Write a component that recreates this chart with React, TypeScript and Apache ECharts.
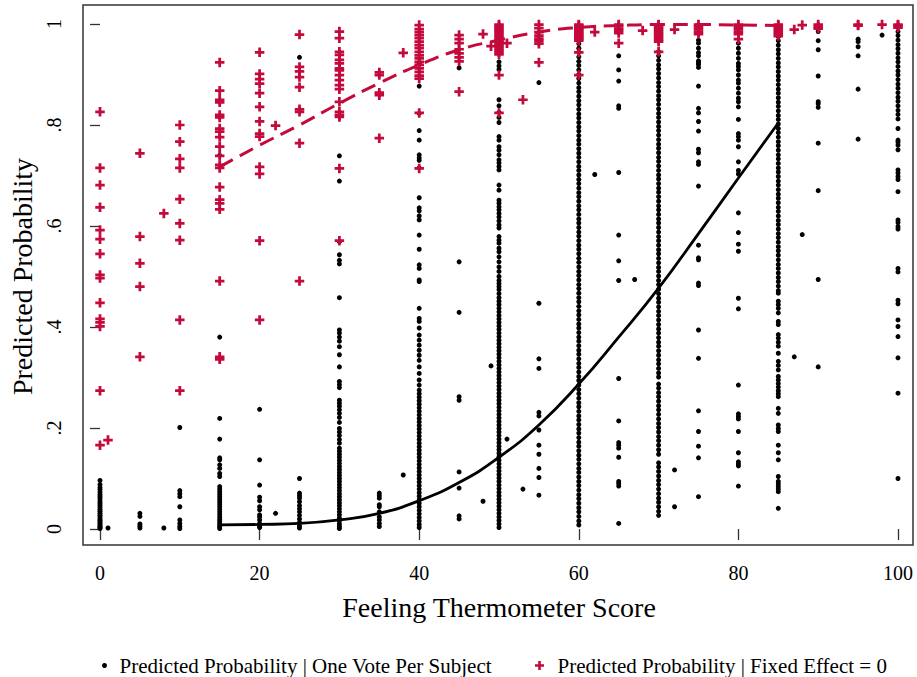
import React, { useEffect, useRef } from "react";
import * as echarts from "echarts";

// ---------- axis ticks ----------
const xTicks = [0, 20, 40, 60, 80, 100];
const yTicks = [0, 0.2, 0.4, 0.6, 0.8, 1];
const yTickLabels = ["0", ".2", ".4", ".6", ".8", "1"];

const xTitle = "Feeling Thermometer Score";
const yTitle = "Predicted Probability";
const nameOneVote = "Predicted Probability | One Vote Per Subject";
const nameFixed = "Predicted Probability | Fixed Effect = 0";

// ---------- black dots: One Vote Per Subject ----------
const dotX = [0, 1, 5, 8, 10, 15, 20, 22, 25, 30, 35, 38, 40, 45, 48, 49, 50, 51, 53, 55, 60, 62, 65, 67, 70, 72, 75, 80, 85, 87, 88, 90, 95, 98, 100];
const dotY: number[][] = [
  [.096, .088, .082, .078, .073, .068, .064, .060, .055, .051, .047, .043, .039, .035, .031, .027, .024, .020, .017, .014, .011, .008, .005, .003, .001],
  [.002],
  [.031, .025, .010, .006, .002],
  [.002],
  [.201, .076, .070, .064, .044, .018, .011, .005, .001],
  [.740, .380, .219, .178, .141, .137, .127, .120, .110, .104, .084, .079, .074, .069, .064, .059, .054, .049, .044, .039, .034, .029, .024, .019, .015, .011, .007, .004, .001],
  [.237, .137, .087, .063, .056, .044, .038, .028, .024, .018, .011, .006, .003],
  [.031],
  [.934, .100, .071, .066, .061, .054, .046, .040, .034, .027, .020, .013, .006, .002],
  [.739, .689, .569, .543, .532, .525, .458, .394, .388, .380, .372, .361, .345, .321, .292, .286, .280, .255, .249, .243, .236, .229, .221, .211, .199, .192, .185, .177, .170, .160, .154, .148, .142, .136, .130, .124, .118, .112, .106, .100, .094, .088, .082, .076, .070, .064, .058, .052, .046, .040, .034, .028, .022, .016, .010, .005, .001],
  [.071, .066, .061, .048, .044, .034, .024, .018, .011, .005],
  [.107],
  [.922, .877, .823, .789, .770, .741, .735, .730, .715, .656, .636, .630, .620, .612, .582, .554, .523, .516, .493, .490, .437, .417, .411, .398, .384, .374, .364, .354, .344, .334, .321, .308, .295, .285, .275, .268, .261, .254, .247, .240, .233, .226, .219, .212, .205, .198, .191, .184, .177, .170, .163, .156, .149, .142, .135, .128, .121, .114, .107, .100, .093, .086, .079, .072, .065, .058, .051, .044, .037, .030, .023, .016, .009, .003],
  [.913, .529, .429, .262, .255, .113, .081, .026, .020],
  [.055],
  [.323],
  [.925, .917, .910, .850, .838, .825, .815, .805, .777, .770, .757, .750, .741, .731, .725, .718, .711, .681, .671, .651, .645, .638, .632, .625, .618, .610, .602, .596, .579, .572, .566, .556, .549, .539, .529, .519, .510, .500, .492, .486, .480, .474, .466, .458, .451, .444, .437, .430, .423, .416, .409, .402, .395, .388, .381, .374, .367, .360, .353, .346, .339, .332, .325, .318, .311, .304, .297, .290, .283, .276, .269, .262, .255, .248, .241, .234, .227, .220, .213, .206, .199, .192, .185, .178, .171, .164, .157, .150, .143, .136, .129, .122, .115, .108, .101, .094, .087, .080, .073, .066, .059, .052, .045, .038, .031, .024, .017, .010, .003],
  [.178],
  [.079],
  [.884, .447, .337, .318, .231, .224, .196, .166, .148, .120, .102, .067],
  [.961, .952, .944, .935, .926, .918, .909, .900, .892, .883, .874, .866, .857, .848, .840, .831, .822, .814, .805, .796, .788, .779, .770, .762, .753, .744, .736, .727, .718, .710, .701, .692, .684, .675, .666, .658, .649, .640, .632, .623, .614, .606, .597, .588, .580, .571, .562, .554, .545, .536, .528, .519, .510, .502, .493, .484, .476, .467, .458, .450, .441, .432, .424, .415, .406, .398, .389, .380, .372, .363, .354, .346, .337, .328, .320, .311, .302, .294, .285, .276, .268, .259, .250, .242, .233, .224, .216, .207, .198, .190, .181, .172, .164, .155, .146, .138, .129, .120, .112, .103, .094, .086, .077, .068, .060, .051, .042, .034, .025, .016, .008],
  [.702],
  [.937, .909, .887, .838, .833, .706, .582, .531, .492, .298, .214, .171, .166, .160, .142, .094, .090, .085, .011],
  [.494],
  [.945, .937, .928, .919, .911, .902, .893, .884, .876, .867, .858, .850, .841, .832, .823, .815, .806, .797, .789, .780, .771, .762, .754, .745, .736, .728, .719, .710, .701, .693, .684, .675, .667, .658, .649, .640, .632, .623, .614, .606, .597, .588, .579, .571, .562, .553, .545, .536, .527, .518, .510, .501, .492, .484, .475, .466, .457, .449, .440, .431, .423, .414, .405, .396, .388, .379, .370, .362, .353, .344, .335, .327, .318, .309, .301, .287, .279, .270, .262, .253, .244, .236, .227, .218, .209, .201, .192, .183, .175, .166, .157, .148, .131, .123, .114, .105, .096, .088, .079, .070, .061, .053, .044, .035, .027],
  [.117, .044],
  [.968, .962, .952, .943, .937, .927, .924, .920, .914, .877, .833, .824, .807, .788, .752, .745, .727, .722, .679, .562, .537, .533, .487, .482, .394, .338, .234, .193, .164, .141, .064],
  [.962, .952, .942, .932, .922, .916, .909, .899, .889, .883, .873, .863, .853, .846, .836, .811, .783, .777, .770, .757, .727, .710, .703, .626, .587, .564, .550, .457, .436, .285, .228, .223, .218, .193, .151, .133, .129, .125, .085],
  [.975, .967, .958, .949, .941, .932, .923, .915, .906, .897, .889, .880, .871, .863, .854, .845, .837, .828, .819, .811, .802, .793, .785, .776, .767, .759, .750, .741, .733, .724, .715, .707, .698, .689, .681, .672, .663, .655, .646, .637, .629, .620, .611, .603, .594, .585, .577, .568, .559, .551, .542, .533, .524, .516, .507, .498, .490, .481, .472, .467, .451, .444, .437, .428, .411, .405, .385, .378, .370, .362, .348, .332, .324, .315, .302, .295, .288, .281, .274, .268, .262, .239, .229, .206, .199, .193, .166, .151, .137, .104, .094, .089, .084, .079, .074, .041],
  [.341],
  [.583],
  [.985, .967, .949, .897, .846, .842, .835, .764, .670, .494, .321],
  [.970, .965, .955, .937, .871, .772],
  [.978],
  [.994, .985, .977, .968, .959, .951, .942, .933, .925, .916, .907, .899, .890, .881, .873, .864, .855, .847, .838, .829, .821, .812, .793, .770, .766, .760, .751, .711, .705, .698, .692, .668, .612, .607, .599, .594, .516, .509, .453, .446, .414, .401, .381, .339, .269, .100],
];

// ---------- red pluses: Fixed Effect = 0 ----------
const plusX = [0, 1, 5, 8, 10, 15, 20, 22, 25, 30, 35, 38, 40, 45, 48, 49, 50, 51, 53, 55, 60, 62, 65, 68, 70, 72, 75, 80, 85, 87, 88, 90, 95, 98, 100];
const plusY: number[][] = [
  [.826, .715, .681, .637, .592, .574, .545, .503, .497, .448, .416, .409, .401, .274, .166],
  [.176],
  [.744, .579, .526, .480, .341],
  [.625],
  [.800, .767, .733, .715, .653, .605, .572, .414, .274],
  [.924, .868, .850, .845, .820, .815, .793, .787, .776, .757, .739, .721, .715, .677, .652, .645, .633, .491, .341, .336],
  [.944, .901, .891, .882, .863, .836, .807, .783, .777, .717, .703, .571, .414],
  [.799],
  [.979, .915, .906, .895, .875, .831, .826, .764, .491],
  [.985, .972, .945, .939, .929, .922, .912, .908, .899, .889, .879, .871, .846, .826, .820, .816, .714, .571],
  [.904, .899, .864, .859, .774],
  [.943],
  [.998, .990, .984, .978, .972, .965, .958, .952, .945, .938, .932, .925, .919, .912, .905, .898, .892, .824, .714],
  [.978, .970, .962, .950, .942, .934, .926, .866],
  [.980],
  [.956],
  [.999, .996, .992, .988, .984, .980, .976, .972, .968, .964, .960, .956, .952, .948, .944, .940, .899, .824],
  [.962],
  [.850],
  [.999, .992, .984, .977, .971, .966, .961, .924],
  [.999, .997, .994, .991, .988, .985, .982, .979, .976, .973, .970, .967, .944, .899],
  [.984],
  [.999, .996, .991, .987, .982, .962],
  [.987],
  [.999, .997, .993, .989, .985, .981, .977, .973, .969, .965, .945],
  [.989],
  [.999, .995, .990, .985, .980],
  [.999, .995, .990, .985, .980, .970],
  [.999, .996, .992, .988, .984, .980, .976],
  [.989],
  [.998],
  [.999, .995, .991],
  [.999, .997],
  [.999],
  [.999, .997, .993],
];

// ---------- fitted curves ----------
const fitX = [15, 20, 25, 30, 35, 40, 45, 50, 55, 60, 65, 70, 75, 80, 85];
const fitOneVote = [0.008, 0.009, 0.011, 0.018, 0.031, 0.056, 0.092, 0.142, 0.206, 0.287, 0.380, 0.477, 0.585, 0.695, 0.804];
const fitFixed = [0.717, 0.760, 0.800, 0.843, 0.883, 0.919, 0.949, 0.968, 0.984, 0.993, 0.997, 0.999, 0.999, 0.998, 0.997];

const RED = "#c40a3c";
const FONT = "'Liberation Serif', 'Times New Roman', serif";
const PLUS = "path://M3.2,0H5.8V3.2H9V5.8H5.8V9H3.2V5.8H0V3.2H3.2Z";

function pairs(xs: number[], ys: number[][]): number[][] {
  const out: number[][] = [];
  xs.forEach((x, i) => ys[i].forEach((y) => out.push([x, y])));
  return out;
}

export default function App() {
  const ref = useRef<HTMLDivElement>(null);
  useEffect(() => {
    if (!ref.current) return;
    const chart = echarts.init(ref.current, null, { renderer: "svg" });
    const option: any = {
      animation: false,
      backgroundColor: "#fff",
      grid: { left: 99, right: 19, top: 24, bottom: 148 },
      graphic: [
        {
          type: "rect",
          shape: { x: 83, y: 5, width: 830, height: 540 },
          style: { fill: "none", stroke: "#333", lineWidth: 1.5 },
          silent: true,
          z: 0,
        },
      ],
      xAxis: {
        type: "value",
        min: 0,
        max: 100,
        interval: 20,
        offset: 16,
        axisLine: { show: false },
        axisTick: { show: true, length: 11, lineStyle: { color: "#333", width: 1.3 } },
        axisLabel: { color: "#000", fontSize: 20, fontFamily: FONT, margin: 18 },
        splitLine: { show: false },
        name: xTitle,
        nameLocation: "middle",
        nameGap: 48,
        nameTextStyle: { color: "#000", fontSize: 28, fontFamily: FONT },
      },
      yAxis: {
        type: "value",
        min: 0,
        max: 1,
        interval: 0.2,
        offset: 16,
        axisLine: { show: false },
        axisTick: { show: true, length: 10, lineStyle: { color: "#333", width: 1.3 } },
        axisLabel: {
          color: "#000",
          fontSize: 20,
          fontFamily: FONT,
          rotate: 90,
          margin: 20,
          formatter: (v: number) => {
            const i = yTicks.findIndex((t) => Math.abs(t - v) < 1e-6);
            return i >= 0 ? yTickLabels[i] : "";
          },
        },
        splitLine: { show: false },
        name: yTitle,
        nameLocation: "middle",
        nameGap: 48,
        nameRotate: 90,
        nameTextStyle: { color: "#000", fontSize: 28, fontFamily: FONT },
      },
      legend: [
        {
          data: [{ name: nameOneVote, icon: "circle" }],
          left: 97,
          top: 650,
          itemWidth: 20,
          itemHeight: 5,
          selectedMode: false,
          textStyle: { color: "#000", fontSize: 21, fontFamily: FONT },
        },
        {
          data: [{ name: nameFixed, icon: PLUS }],
          left: 530,
          top: 650,
          itemWidth: 26,
          itemHeight: 9,
          selectedMode: false,
          textStyle: { color: "#000", fontSize: 21, fontFamily: FONT },
        },
      ],
      series: [
        {
          name: nameOneVote,
          type: "scatter",
          data: pairs(dotX, dotY),
          symbol: "circle",
          symbolSize: 5,
          itemStyle: { color: "#000", opacity: 1 },
          clip: false,
          silent: true,
          z: 2,
        },
        {
          name: "fitOneVote",
          type: "line",
          data: fitX.map((x, i) => [x, fitOneVote[i]]),
          showSymbol: false,
          smooth: true,
          lineStyle: { color: "#000", width: 2.8 },
          clip: false,
          silent: true,
          z: 3,
        },
        {
          name: nameFixed,
          type: "scatter",
          data: pairs(plusX, plusY),
          symbol: PLUS,
          symbolSize: 9.5,
          itemStyle: { color: RED, opacity: 1 },
          clip: false,
          silent: true,
          z: 4,
        },
        {
          name: "fitFixed",
          type: "line",
          data: fitX.map((x, i) => [x, fitFixed[i]]),
          showSymbol: false,
          smooth: true,
          lineStyle: { color: RED, width: 3, type: [15, 8] },
          clip: false,
          silent: true,
          z: 5,
        },
      ],
    };
    chart.setOption(option);
    return () => chart.dispose();
  }, []);
  return (
    <div
      ref={ref}
      style={{ position: "fixed", left: 0, top: 0, width: 917, height: 677, background: "#fff" }}
    />
  );
}
